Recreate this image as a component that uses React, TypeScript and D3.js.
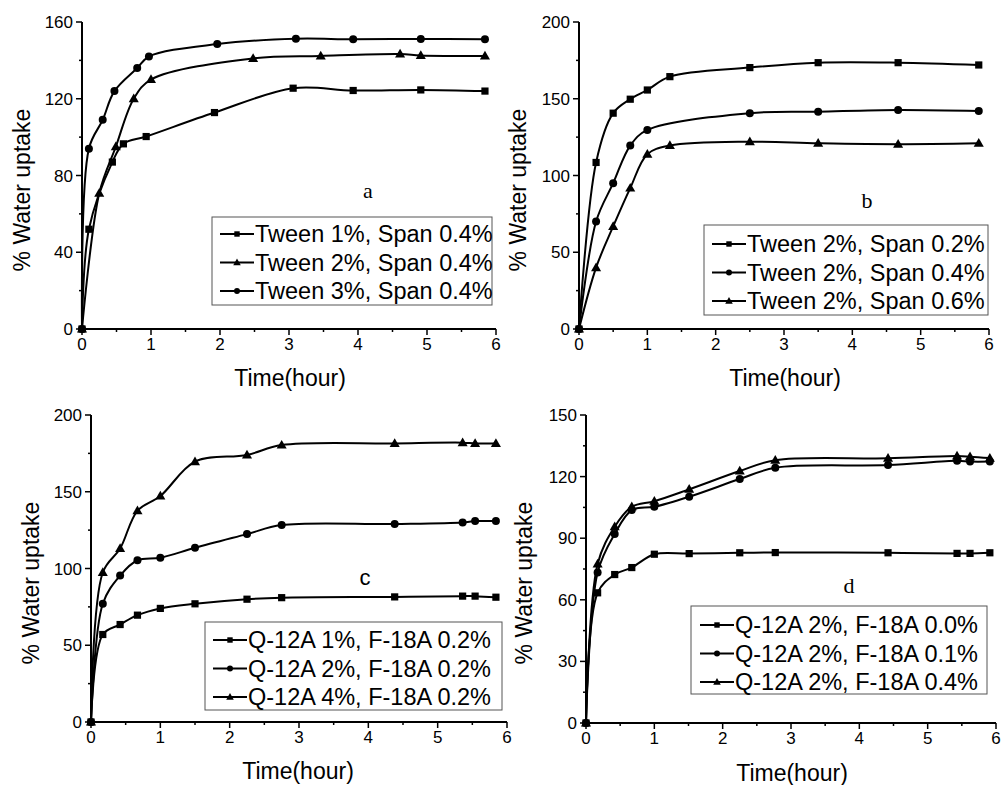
import * as d3 from "d3";

// ---- data ----
// panel a
const aSqT = [0, 0.1, 0.44, 0.6, 0.93, 1.92, 3.06, 3.93, 4.91, 5.84];
const aSqV = [0, 52, 87, 96.5, 100.3, 112.8, 125.5, 124.3, 124.6, 124];
const aTriT = [0, 0.25, 0.49, 0.75, 1.0, 2.48, 3.46, 4.61, 4.91, 5.84];
const aTriV = [0, 70.8, 95, 120, 130, 141, 142.3, 143.3, 142.6, 142.3];
const aCirT = [0, 0.1, 0.3, 0.47, 0.8, 0.97, 1.96, 3.1, 3.93, 4.91, 5.84];
const aCirV = [0, 94, 109, 124, 136, 142, 148.5, 151.3, 151, 151.2, 151];
const aLabels = ["Tween 1%, Span 0.4%", "Tween 2%, Span 0.4%", "Tween 3%, Span 0.4%"];

// panel b
const bT = [0, 0.25, 0.5, 0.75, 1.0, 1.33, 2.5, 3.5, 4.67, 5.85];
const bSqV = [0, 108.5, 140.6, 149.7, 155.7, 164.4, 170.3, 173.5, 173.5, 172];
const bCirT = [0, 0.25, 0.5, 0.75, 1.0, 2.5, 3.5, 4.67, 5.85];
const bCirV = [0, 70, 95, 119.5, 129.7, 140.6, 141.6, 142.7, 142];
const bTriV = [0, 40, 66.8, 91.8, 113.9, 119.5, 122, 121, 120.4, 121];
const bLabels = ["Tween 2%, Span 0.2%", "Tween 2%, Span 0.4%", "Tween 2%, Span 0.6%"];

// panel c
const cT = [0, 0.17, 0.42, 0.67, 1, 1.5, 2.25, 2.75, 4.38, 5.36, 5.54, 5.84];
const cSqV = [0, 57, 63.5, 69.6, 74, 77, 80, 81, 81.5, 82, 82, 81.3];
const cCirV = [0, 77, 95.4, 105.4, 107, 113.5, 122.4, 128.3, 129, 130, 130.9, 130.9];
const cTriV = [0, 97.4, 113, 137.6, 147.2, 169.6, 174, 180.4, 181.5, 182, 181.5, 181.5];
const cLabels = ["Q-12A 1%, F-18A 0.2%", "Q-12A 2%, F-18A 0.2%", "Q-12A 4%, F-18A 0.2%"];

// panel d
const dT = [0, 0.17, 0.42, 0.67, 1, 1.51, 2.25, 2.77, 4.42, 5.43, 5.62, 5.91];
const dSqV = [0, 63.4, 72.3, 75.7, 82.2, 82.5, 82.9, 83, 82.9, 82.6, 82.6, 82.9];
const dCirV = [0, 73.3, 92, 103.7, 105.3, 110.2, 118.8, 124.3, 125.6, 127.7, 127.3, 127.3];
const dTriV = [0, 77.4, 95.6, 105.3, 108, 113.8, 122.7, 128, 128.9, 130, 129.7, 129];
const dLabels = ["Q-12A 2%, F-18A 0.0%", "Q-12A 2%, F-18A 0.1%", "Q-12A 2%, F-18A 0.4%"];

const xTicks = [0, 1, 2, 3, 4, 5, 6];

const SANS = "'Liberation Sans', Arial, sans-serif";
const SERIF = "'Liberation Serif', 'Times New Roman', serif";

type Shape = "square" | "triangle" | "circle";
type Series = { t: number[]; v: number[]; shape: Shape; label: string };

function Marker({ shape, x, y, s }: { shape: Shape; x: number; y: number; s: number }) {
  if (shape === "circle") return <circle cx={x} cy={y} r={s * 0.5} fill="#000" />;
  if (shape === "square")
    return <rect x={x - s * 0.45} y={y - s * 0.45} width={s * 0.9} height={s * 0.9} fill="#000" />;
  const h = s * 1.05;
  return (
    <path
      d={`M${x},${y - h * 0.62}L${x + h * 0.6},${y + h * 0.42}L${x - h * 0.6},${y + h * 0.42}Z`}
      fill="#000"
    />
  );
}

function Panel(props: {
  x0: number; x1: number; y0: number; y1: number;
  yMax: number; yStep: number;
  series: Series[];
  tag: string; tagX: number; tagY: number; tagFont: string;
  legend: { x: number; y: number; w: number; h: number; lineX: number; base: number };
  yTitleX: number; yTitleY: number; xTitleX: number; xTitleY: number;
}) {
  const { x0, x1, y0, y1, yMax, yStep, series, legend } = props;
  const x = d3.scaleLinear().domain([0, 6]).range([x0, x1]);
  const y = d3.scaleLinear().domain([0, yMax]).range([y1, y0]);
  const yTicks = d3.range(0, yMax + 0.001, yStep);
  const yMinor = d3.range(yStep / 2, yMax, yStep);
  const xMinor = d3.range(0.5, 6, 1);
  // smooth spline through the points, like the original software
  const line = d3.line().curve(d3.curveCatmullRom.alpha(0.5));

  return (
    <g>
      {series.map((s, k) => {
        const pts = s.t.map((t, i) => [x(t), y(s.v[i])] as [number, number]);
        return (
          <g key={k}>
            <path d={line(pts) || ""} fill="none" stroke="#000" strokeWidth={2} />
            {pts.map((p, i) => (
              <Marker key={i} shape={s.shape} x={p[0]} y={p[1]} s={8} />
            ))}
          </g>
        );
      })}
      {/* axes */}
      <line x1={x0} x2={x0} y1={y0} y2={y1} stroke="#000" strokeWidth={2} />
      <line x1={x0} x2={x1} y1={y1} y2={y1} stroke="#000" strokeWidth={2} />
      {yTicks.map((t) => (
        <g key={"y" + t}>
          <line x1={x0 - 6} x2={x0} y1={y(t)} y2={y(t)} stroke="#000" strokeWidth={1.5} />
          <text x={x0 - 9} y={y(t) + 6} textAnchor="end" fontSize={17} fontFamily={SANS}>
            {t}
          </text>
        </g>
      ))}
      {yMinor.map((t) => (
        <line key={"ym" + t} x1={x0 - 3} x2={x0} y1={y(t)} y2={y(t)} stroke="#000" strokeWidth={1.5} />
      ))}
      {xTicks.map((t) => (
        <g key={"x" + t}>
          <line x1={x(t)} x2={x(t)} y1={y1} y2={y1 + 6} stroke="#000" strokeWidth={1.5} />
          <text x={x(t)} y={y1 + 21} textAnchor="middle" fontSize={17} fontFamily={SANS}>
            {t}
          </text>
        </g>
      ))}
      {xMinor.map((t) => (
        <line key={"xm" + t} x1={x(t)} x2={x(t)} y1={y1} y2={y1 + 3} stroke="#000" strokeWidth={1.5} />
      ))}
      {/* titles */}
      <text
        transform={`translate(${props.yTitleX},${props.yTitleY}) rotate(-90)`}
        textAnchor="middle"
        fontSize={23}
        fontFamily={SANS}
      >
        % Water uptake
      </text>
      <text x={props.xTitleX} y={props.xTitleY} textAnchor="middle" fontSize={23} fontFamily={SANS}>
        Time(hour)
      </text>
      <text x={props.tagX} y={props.tagY} textAnchor="middle" fontSize={22} fontFamily={props.tagFont}>
        {props.tag}
      </text>
      {/* legend */}
      <rect x={legend.x} y={legend.y} width={legend.w} height={legend.h} fill="#fff" stroke="#555" strokeWidth={1} />
      {series.map((s, k) => {
        const by = legend.base + k * 28.5;
        return (
          <g key={"l" + k}>
            <line x1={legend.lineX} x2={legend.lineX + 34} y1={by - 8} y2={by - 8} stroke="#000" strokeWidth={2} />
            <Marker shape={s.shape} x={legend.lineX + 17} y={by - 8} s={6} />
            <text x={legend.lineX + 35} y={by} fontSize={23.5} fontFamily={SANS}>
              {s.label}
            </text>
          </g>
        );
      })}
    </g>
  );
}

export default function App() {
  return (
    <svg
      width={1002}
      height={785}
      style={{ position: "absolute", left: 0, top: 0, background: "#fff" }}
    >
      <Panel
        x0={82} x1={496} y0={22} y1={329} yMax={160} yStep={40}
        series={[
          { t: aSqT, v: aSqV, shape: "square", label: aLabels[0] },
          { t: aTriT, v: aTriV, shape: "triangle", label: aLabels[1] },
          { t: aCirT, v: aCirV, shape: "circle", label: aLabels[2] },
        ]}
        tag="a" tagX={368} tagY={198} tagFont={SERIF}
        legend={{ x: 212, y: 217, w: 280, h: 88, lineX: 220, base: 242 }}
        yTitleX={30} yTitleY={190} xTitleX={290} xTitleY={386}
      />
      <Panel
        x0={579} x1={989} y0={22} y1={329} yMax={200} yStep={50}
        series={[
          { t: bT, v: bSqV, shape: "square", label: bLabels[0] },
          { t: bCirT, v: bCirV, shape: "circle", label: bLabels[1] },
          { t: bT, v: bTriV, shape: "triangle", label: bLabels[2] },
        ]}
        tag="b" tagX={867} tagY={208} tagFont={SERIF}
        legend={{ x: 704, y: 225, w: 284, h: 90, lineX: 712, base: 252 }}
        yTitleX={526} yTitleY={190} xTitleX={785} xTitleY={386}
      />
      <Panel
        x0={91} x1={507} y0={415} y1={722} yMax={200} yStep={50}
        series={[
          { t: cT, v: cSqV, shape: "square", label: cLabels[0] },
          { t: cT, v: cCirV, shape: "circle", label: cLabels[1] },
          { t: cT, v: cTriV, shape: "triangle", label: cLabels[2] },
        ]}
        tag="c" tagX={365} tagY={585} tagFont={SANS}
        legend={{ x: 205, y: 622, w: 297, h: 88, lineX: 213, base: 648 }}
        yTitleX={39} yTitleY={583} xTitleX={298} xTitleY={779}
      />
      <Panel
        x0={586} x1={996} y0={415} y1={723} yMax={150} yStep={30}
        series={[
          { t: dT, v: dSqV, shape: "square", label: dLabels[0] },
          { t: dT, v: dCirV, shape: "circle", label: dLabels[1] },
          { t: dT, v: dTriV, shape: "triangle", label: dLabels[2] },
        ]}
        tag="d" tagX={849} tagY={593} tagFont={SERIF}
        legend={{ x: 691, y: 606, w: 296, h: 88, lineX: 700, base: 633 }}
        yTitleX={532} yTitleY={583} xTitleX={792} xTitleY={781}
      />
    </svg>
  );
}
